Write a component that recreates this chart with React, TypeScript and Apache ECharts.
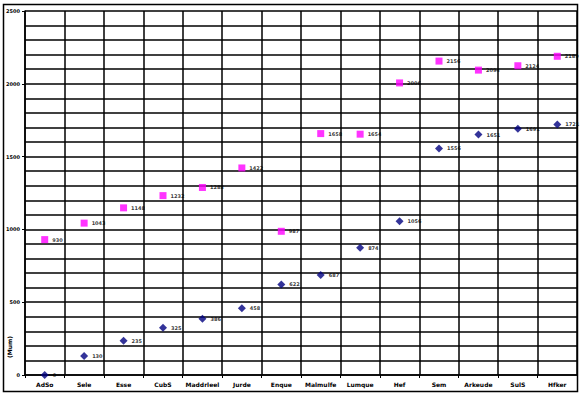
import React, { useEffect, useRef } from "react";
import * as echarts from "echarts";

const categories = ["AdSo", "Sele", "Esse", "CubS", "Maddrleel", "Jurde", "Enque", "Malmulfe", "Lumque", "Hef", "Sem", "Arkeude", "SulS", "Hfker"];
const seriesBlue = [0, 130, 235, 325, 386, 458, 622, 687, 874, 1056, 1556, 1651, 1691, 1721];
const seriesPink = [930, 1043, 1148, 1232, 1288, 1422, 987, 1658, 1654, 2006, 2156, 2094, 2124, 2189];
const yTicks = [0, 500, 1000, 1500, 2000, 2500];

export default function App() {
  const ref = useRef<HTMLDivElement>(null);
  useEffect(() => {
    const chart = echarts.init(ref.current!, undefined, { renderer: "svg" });
    const labelStyle = {
      show: true,
      position: "right" as const,
      distance: 4,
      fontSize: 5,
      fontWeight: "bold" as const,
      color: "#000",
      fontFamily: "DejaVu Sans",
    };
    chart.setOption({
      animation: false,
      backgroundColor: "#fff",
      grid: { left: 25, top: 11, right: 6, bottom: 22, containLabel: false },
      xAxis: {
        type: "category",
        data: categories,
        boundaryGap: true,
        axisLine: { show: true, lineStyle: { color: "#000", width: 1.5 } },
        axisTick: { show: true, alignWithLabel: false, length: 3, lineStyle: { color: "#000", width: 1 } },
        axisLabel: { color: "#000", fontSize: 6, fontWeight: "bold", fontFamily: "DejaVu Sans", margin: 6, interval: 0 },
        splitLine: { show: true, interval: 0, lineStyle: { color: "#000", width: 1.5 } },
      },
      yAxis: {
        type: "value",
        min: yTicks[0],
        max: yTicks[yTicks.length - 1],
        interval: 500,
        axisLine: { show: true, lineStyle: { color: "#000", width: 1.5 } },
        axisTick: { show: true, length: 3, lineStyle: { color: "#000" } },
        axisLabel: {
          color: "#000",
          fontSize: 5,
          fontWeight: "bold",
          fontFamily: "DejaVu Sans",
          margin: 5,
          formatter: (v: number) => String(v),
        },
        splitLine: { show: true, lineStyle: { color: "#000", width: 1.5 } },
        minorTick: { show: false, splitNumber: 5 },
        minorSplitLine: { show: true, lineStyle: { color: "#000", width: 1.5 } },
      },
      series: [
        {
          type: "scatter",
          name: "blue",
          data: seriesBlue,
          symbol: "diamond",
          symbolSize: 8,
          itemStyle: { color: "#000080" },
          label: labelStyle,
        },
        {
          type: "scatter",
          name: "pink",
          data: seriesPink,
          symbol: "rect",
          symbolSize: 7,
          itemStyle: { color: "#ff00ff" },
          label: labelStyle,
        },
      ],
      graphic: [
        {
          type: "rect",
          shape: { x: 3.5, y: 4.5, width: 574, height: 387 },
          style: { fill: "none", stroke: "#000", lineWidth: 1.5 },
          silent: true,
        },
        {
          type: "text",
          x: 6,
          y: 358,
          rotation: Math.PI / 2,
          style: { text: "(Mum)", fontSize: 6, fontWeight: "bold", fill: "#000", fontFamily: "DejaVu Sans" },
        },
      ],
    });
    return () => chart.dispose();
  }, []);
  return <div ref={ref} style={{ width: 583, height: 397, position: "absolute", left: 0, top: 0 }} />;
}
